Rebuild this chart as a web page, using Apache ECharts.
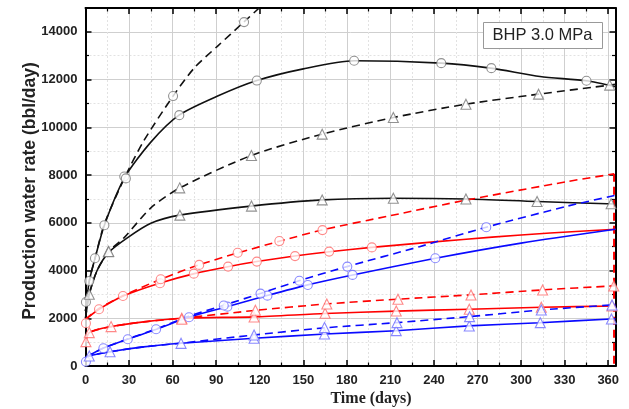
<!DOCTYPE html>
<html><head><meta charset="utf-8">
<script src="https://cdn.jsdelivr.net/npm/echarts@6/dist/echarts.min.js"></script>
<style>html,body{margin:0;padding:0;background:#fff}#c{width:629px;height:409px}</style>
</head><body><div id="c"></div>
<script>
// ---- data (days, bbl/day) ----
const xTicks = [0,30,60,90,120,150,180,210,240,270,300,330,360];
const yTicks = [0,2000,4000,6000,8000,10000,12000,14000];

const blackSolidCircleLine = [[0,2300],[2.6,3560],[6.5,4500],[13,5900],[27,7900],[45,9380],[64.4,10510],[91,11310],[118,11960],[150,12450],[185,12790],[245,12690],[279,12480],[313,12130],[345,11950],[365,11700]];
const blackSolidCircleMarks = [[2.6,3560],[6.5,4516],[13,5900],[26.7,7940],[64.6,10510],[118,11960],[185,12790],[245,12690],[279.5,12480],[345,11950]];

const blackDashCircleLine = [[0,2300],[2.6,3560],[6.5,4500],[13,5950],[27,7900],[40,9420],[60.3,11308],[75,12495],[91,13405],[109,14410],[119.6,15000]];
const blackDashCircleMarks = [[0.3,2680],[27.8,7860],[60.3,11310],[109.2,14410]];

const blackSolidTriLine = [[0,2000],[2.6,3000],[8,4000],[16,4760],[28.8,5370],[45,5980],[65,6320],[114,6700],[163,6960],[212,7030],[262,7000],[311,6890],[365,6790]];
const blackSolidTriMarks = [[2.6,3006],[15.7,4790],[65,6320],[114.3,6700],[163,6960],[212,7030],[262,7000],[311,6890],[362,6800]];

const blackDashTriLine = [[0,2000],[2.6,3000],[8,4000],[16,4800],[26.5,5370],[45,6625],[65,7464],[114,8818],[163,9715],[212,10410],[262,10970],[312,11390],[365,11800]];
const blackDashTriMarks = [[16,4800],[64.9,7464],[114.3,8818],[163,9715],[212,10410],[262,10970],[312,11390],[361,11770]];

const redSolidCircleLine = [[0,1950],[9.3,2380],[26,2935],[51,3470],[75,3870],[98,4160],[118,4375],[144,4610],[168,4790],[197,4970],[240,5200],[280,5400],[320,5570],[365,5730]];
const redSolidCircleMarks = [[0.3,1790],[9.3,2380],[25.8,2935],[51.3,3470],[74.6,3870],[98.2,4165],[118,4375],[144.3,4605],[167.8,4793],[197.2,4970]];

const redDashCircleLine = [[0,1950],[9,2400],[26,2950],[52,3640],[78,4235],[105,4740],[134,5235],[163,5700],[210,6300],[263,6960],[332,7730],[364,8050]];
const redDashCircleDrop = [[364,8050],[364,0]];
const redDashCircleMarks = [[51.8,3635],[78.3,4235],[104.8,4745],[133.5,5235],[163.2,5695]];

const redSolidTriLine = [[0,1000],[2.6,1400],[17.6,1650],[40,1850],[66,2000],[116,2060],[165,2200],[214,2300],[264,2380],[314,2460],[365,2515]];
const redSolidTriMarks = [[0.3,1020],[2.6,1400],[17.6,1650],[66.3,2000],[116.1,2055],[165,2209],[214,2306],[264.3,2376],[313.9,2460],[362.6,2516]];

const redDashTriLine = [[0,1000],[2.6,1400],[17.6,1650],[40,1850],[66,2000],[117,2330],[166,2600],[215,2800],[265,2980],[315,3190],[365,3360]];
const redDashTriMarks = [[66.3,1960],[117,2335],[166.2,2600],[215.2,2797],[265.5,2977],[314.8,3187],[363.8,3354]];

const blueSolidCircleLine = [[0,350],[12,740],[29,1120],[49,1540],[71,2040],[98,2490],[125,2950],[153,3400],[184,3815],[241,4515],[300,5150],[365,5730]];
const blueSolidCircleMarks = [[0.3,180],[12.3,742],[29.1,1119],[48.6,1539],[71.3,2042],[97.7,2487],[125.3,2948],[153.1,3396],[183.9,3816],[240.9,4515]];

const blueDashCircleLine = [[0,350],[12,740],[29,1130],[49,1560],[71,2080],[95,2540],[120,3030],[147,3570],[180,4164],[230,5000],[276,5816],[332,6700],[365,7150]];
const blueDashCircleMarks = [[95.2,2537],[120.5,3033],[147.3,3570],[180.3,4164],[276,5816]];

const blueSolidTriLine = [[0,300],[2.6,420],[17,600],[40,800],[66,950],[116,1160],[165,1340],[214,1480],[264,1680],[313,1815],[365,1980]];
const blueSolidTriMarks = [[2.6,419],[16.9,600],[65.8,950],[116.1,1161],[164.6,1342],[214,1481],[264.3,1677],[313.2,1817],[362.2,1971]];

const blueDashTriLine = [[0,300],[2.6,420],[17,600],[40,800],[66,960],[116,1300],[165,1600],[214,1816],[264,2067],[314,2348],[365,2570]];
const blueDashTriMarks = [[116.1,1300],[164.6,1614],[214.5,1816],[264.5,2067],[313.9,2348],[362.6,2558]];

// ---- chart ----
const BLACK='#111', RED='#ff0000', BLUE='#0a0aff';
const MK = {black:'#777', red:'#ff6b6b', blue:'#6b6bff'};
function line(data, color, dashed){
  return {type:'line', data, smooth:0.25, showSymbol:false, symbol:'none',
    lineStyle:{color, width:1.6, type: dashed?[8,5]:'solid'}, z:3, animation:false};
}
function marks(data, color, shape){
  return {type:'scatter', data, symbol: shape==='c'?'circle':'triangle', symbolSize: shape==='c'?9:10,
    itemStyle:{color:'#fff', borderColor:color, borderWidth:1.1}, z:5, animation:false};
}
const axisFont = {fontFamily:'Liberation Sans, Arial, sans-serif', fontWeight:'bold', fontSize:13, color:'#222'};
function xAx(pos, labels){
  return {type:'value', position:pos, min:0, max:365, interval:30,
    axisLine:{show:true, onZero:false, lineStyle:{color:'#000', width:2}},
    axisTick:{show:true, inside:true, length:6, lineStyle:{color:'#000', width:1.5}},
    minorTick:{show:true, splitNumber:2, length:3.5, lineStyle:{color:'#000', width:1.2}},
    splitLine:{show:labels, lineStyle:{color:'#cfcfcf', width:1}},
    minorSplitLine:{show:labels, lineStyle:{color:'#e2e2e2', width:1, type:[2,2]}},
    axisLabel:Object.assign({show:labels, margin:8, showMaxLabel:false, formatter:v=>String(v)}, axisFont)};
}
function yAx(pos, labels){
  return {type:'value', position:pos, min:0, max:15000, interval:2000,
    axisLine:{show:true, onZero:false, lineStyle:{color:'#000', width:2}},
    axisTick:{show:true, inside:true, length:6, lineStyle:{color:'#000', width:1.5}},
    minorTick:{show:true, splitNumber:2, length:3.5, lineStyle:{color:'#000', width:1.2}},
    splitLine:{show:labels, lineStyle:{color:'#cfcfcf', width:1}},
    minorSplitLine:{show:labels, lineStyle:{color:'#e2e2e2', width:1, type:[2,2]}},
    axisLabel:Object.assign({show:labels, margin:8, showMaxLabel:false, formatter:v=>String(v)}, axisFont)};
}
const chart = echarts.init(document.getElementById('c'), null, {renderer:'canvas'});
chart.setOption({
  animation:false,
  backgroundColor:'#fff',
  grid:{left:85.5, right:13.5, top:8, bottom:43},
  xAxis:[xAx('bottom', true), xAx('top', false)],
  yAxis:[yAx('left', true), yAx('right', false)],
  series:[
    line(blackSolidCircleLine, BLACK, false),
    line(blackDashCircleLine, BLACK, true),
    line(blackSolidTriLine, BLACK, false),
    line(blackDashTriLine, BLACK, true),
    line(redSolidCircleLine, RED, false),
    line(redDashCircleLine, RED, true),
    Object.assign(line(redDashCircleDrop, RED, true), {smooth:false, lineStyle:{color:RED, width:2, type:[8,5]}}),
    line(redSolidTriLine, RED, false),
    line(redDashTriLine, RED, true),
    line(blueSolidCircleLine, BLUE, false),
    line(blueDashCircleLine, BLUE, true),
    line(blueSolidTriLine, BLUE, false),
    line(blueDashTriLine, BLUE, true),
    marks(blackSolidCircleMarks, MK.black, 'c'),
    marks(blackDashCircleMarks, MK.black, 'c'),
    marks(blackSolidTriMarks, MK.black, 't'),
    marks(blackDashTriMarks, MK.black, 't'),
    marks(redSolidCircleMarks, MK.red, 'c'),
    marks(redDashCircleMarks, MK.red, 'c'),
    marks(redSolidTriMarks, MK.red, 't'),
    marks(redDashTriMarks, MK.red, 't'),
    marks(blueSolidCircleMarks, MK.blue, 'c'),
    marks(blueDashCircleMarks, MK.blue, 'c'),
    marks(blueSolidTriMarks, MK.blue, 't'),
    marks(blueDashTriMarks, MK.blue, 't')
  ],
  graphic:[
    {type:'rect', left:483, top:22, shape:{width:119, height:26}, style:{fill:'#fff', stroke:'#999', lineWidth:1}, z:10},
    {type:'text', x:542.5, y:35, style:{text:'BHP 3.0 MPa', fontFamily:'Liberation Sans, Arial, sans-serif', fontSize:16.5, fill:'#222', align:'center', verticalAlign:'middle'}, z:11},
    {type:'text', x:30, y:191, rotation:Math.PI/2, style:{text:'Production water rate (bbl/day)', fontFamily:'Liberation Sans, Arial, sans-serif', fontWeight:'bold', fontSize:17.5, fill:'#222', align:'center', verticalAlign:'middle'}},
    {type:'text', x:371, y:399, style:{text:'Time (days)', fontFamily:'Liberation Serif, Times New Roman, serif', fontWeight:'bold', fontSize:16, fill:'#222', align:'center', verticalAlign:'middle'}}
  ]
});
</script></body></html>
